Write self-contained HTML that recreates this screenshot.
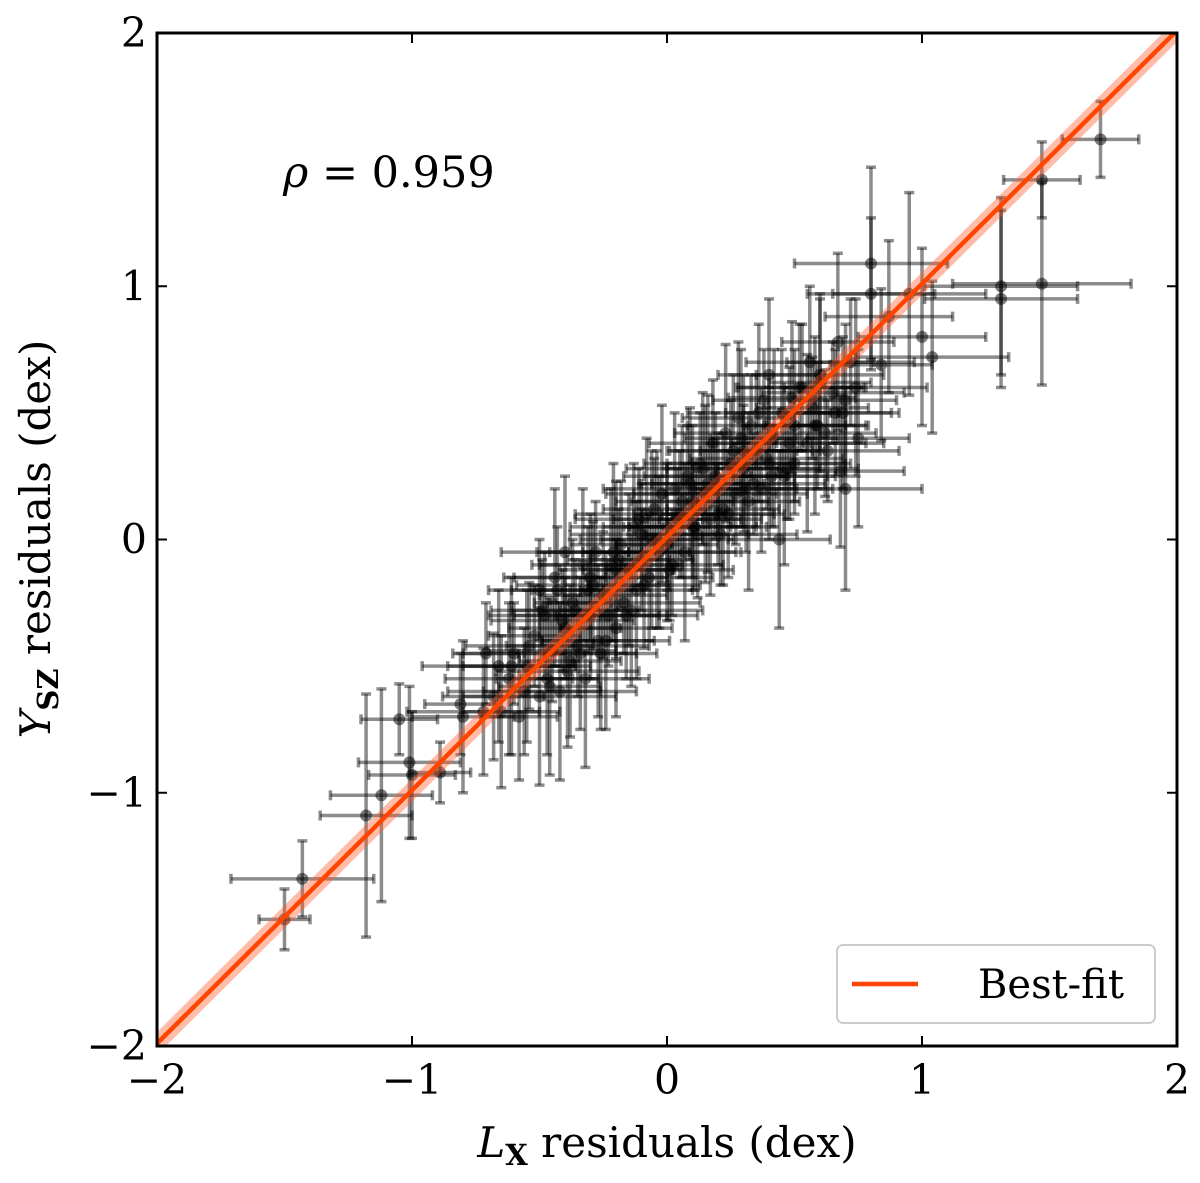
<!DOCTYPE html>
<html><head><meta charset="utf-8"><style>
body{margin:0;background:#fff;}
svg text{font-family:"DejaVu Serif","Liberation Serif",serif;}
</style></head><body>
<svg id="chart" width="1200" height="1178" xmlns="http://www.w3.org/2000/svg">
<g id="marks"></g>
<g id="fit"></g>
<g id="axes"></g>
</svg>
<script>
const xTicks=[-2,-1,0,1,2];
const yTicks=[-2,-1,0,1,2];
const tickLabels=["\u22122","\u22121","0","1","2"];
const fitSlope=1.0;
const fitIntercept=0.01;
const fitBand=0.045;
const xs=[-1.5,-1.43,-1.18,-1.12,-1.05,-1.01,-1.0,-0.89,-0.81,-0.8,-0.71,-0.68,-0.65,1.7,1.47,1.47,1.31,1.31,0.8,0.8,0.95,0.87,0.84,1.0,1.04,0.75,0.68,0.7,0.44,0.4,
-0.6,-0.58,-0.55,-0.52,-0.5,-0.48,-0.47,-0.45,-0.43,-0.42,-0.4,-0.38,-0.37,-0.35,-0.33,-0.32,-0.3,-0.28,-0.27,-0.25,-0.23,-0.22,-0.2,-0.18,-0.17,-0.15,-0.13,-0.12,-0.1,-0.08,
-0.07,-0.05,-0.03,-0.02,0.0,0.02,0.03,0.05,0.07,0.08,0.1,0.12,0.13,0.15,0.17,0.18,0.2,0.22,0.23,0.25,0.27,0.28,0.3,0.32,0.33,0.35,0.37,0.38,0.4,0.42,
0.45,0.47,0.5,0.52,0.55,0.57,0.6,0.62,0.65,0.67,0.7,0.72,-0.62,-0.56,-0.44,-0.36,-0.26,-0.16,-0.06,0.04,0.14,0.24,0.34,0.46,0.56,0.66,-0.5,-0.4,-0.3,-0.2,-0.1,0.0,0.1,0.2,0.3,0.6,
-0.66,-0.54,-0.46,-0.41,-0.34,-0.29,-0.24,-0.19,-0.14,-0.09,-0.04,0.01,0.06,0.11,0.16,0.21,0.26,0.31,0.36,0.41,0.48,0.53,0.58,0.63,0.69,-0.72,-0.61,-0.49,-0.39,-0.31,
-0.21,-0.11,0.09,0.19,0.29,0.39,0.49,0.59,0.74,0.5];
const ys=[-1.5,-1.34,-1.09,-1.01,-0.71,-0.88,-0.93,-0.92,-0.65,-0.7,-0.45,-0.62,-0.68,1.58,1.42,1.01,1.0,0.95,1.09,0.97,0.97,0.88,0.69,0.8,0.72,0.4,0.27,0.2,0.0,0.65,
-0.45,-0.7,-0.5,-0.38,-0.62,-0.3,-0.55,-0.44,-0.2,-0.6,-0.35,-0.48,-0.25,-0.42,-0.1,-0.55,-0.3,-0.05,-0.4,-0.22,-0.3,-0.1,-0.35,-0.02,-0.25,-0.12,0.05,-0.2,-0.08,0.1,
-0.15,0.12,-0.05,0.18,0.05,-0.1,0.2,0.1,-0.05,0.25,0.15,0.02,0.3,0.18,0.08,0.38,0.22,0.12,0.42,0.3,0.18,0.48,0.28,0.15,0.45,0.35,0.2,0.55,0.3,0.4,
0.5,0.28,0.45,0.6,0.38,0.52,0.65,0.42,0.58,0.78,0.55,0.7,-0.55,-0.6,-0.15,-0.28,-0.45,-0.3,0.0,0.08,0.28,0.1,0.22,0.25,0.7,0.5,-0.2,-0.05,-0.15,-0.12,0.02,-0.02,0.05,0.1,0.35,0.62,
-0.5,-0.42,-0.58,-0.32,-0.45,-0.18,-0.4,-0.08,-0.28,-0.18,0.0,-0.12,0.15,0.05,0.22,0.02,0.35,0.2,0.5,0.25,0.38,0.6,0.45,0.35,0.5,-0.68,-0.5,-0.28,-0.52,-0.2,
-0.05,0.08,0.22,0.25,0.4,0.32,0.56,0.45,0.6,0.3];
const xerrs=[0.1,0.28,0.18,0.2,0.15,0.2,0.17,0.12,0.14,0.2,0.13,0.2,0.15,0.15,0.15,0.35,0.3,0.3,0.3,0.25,0.3,0.25,0.2,0.25,0.3,0.2,0.25,0.3,0.2,0.2,
0.2,0.15,0.25,0.18,0.3,0.22,0.2,0.25,0.18,0.3,0.22,0.2,0.15,0.28,0.2,0.25,0.3,0.18,0.22,0.25,0.2,0.28,0.22,0.2,0.3,0.18,0.25,0.22,0.2,0.28,
0.25,0.2,0.3,0.22,0.25,0.2,0.28,0.18,0.22,0.25,0.3,0.2,0.22,0.28,0.2,0.25,0.3,0.22,0.2,0.25,0.28,0.22,0.3,0.2,0.25,0.22,0.28,0.2,0.3,0.25,
0.22,0.28,0.2,0.25,0.3,0.22,0.25,0.2,0.28,0.22,0.2,0.25,0.25,0.3,0.2,0.25,0.22,0.28,0.2,0.25,0.3,0.22,0.28,0.2,0.25,0.22,0.2,0.25,0.3,0.22,0.28,0.2,0.25,0.22,0.3,0.2,
0.3,0.25,0.2,0.28,0.22,0.3,0.25,0.2,0.28,0.22,0.3,0.25,0.2,0.28,0.22,0.3,0.25,0.2,0.28,0.22,0.3,0.25,0.2,0.28,0.22,0.3,0.25,0.2,0.28,0.22,
0.3,0.25,0.2,0.28,0.22,0.3,0.25,0.2,0.28,0.22];
const yerrs=[0.12,0.15,0.48,0.42,0.14,0.3,0.25,0.12,0.2,0.3,0.2,0.25,0.3,0.15,0.15,0.4,0.35,0.35,0.38,0.3,0.4,0.3,0.3,0.35,0.3,0.35,0.3,0.4,0.35,0.3,
0.2,0.25,0.3,0.2,0.35,0.25,0.3,0.2,0.25,0.35,0.2,0.3,0.25,0.2,0.3,0.35,0.25,0.2,0.3,0.25,0.2,0.3,0.35,0.25,0.2,0.3,0.25,0.35,0.2,0.3,
0.25,0.2,0.3,0.35,0.25,0.2,0.3,0.25,0.35,0.2,0.3,0.25,0.2,0.35,0.3,0.25,0.2,0.3,0.35,0.25,0.2,0.3,0.25,0.35,0.2,0.3,0.25,0.2,0.3,0.35,
0.25,0.2,0.3,0.25,0.35,0.2,0.3,0.25,0.2,0.35,0.3,0.25,0.3,0.25,0.35,0.2,0.3,0.25,0.35,0.2,0.3,0.25,0.2,0.35,0.3,0.25,0.2,0.3,0.25,0.35,0.2,0.3,0.25,0.2,0.3,0.35,
0.3,0.25,0.35,0.2,0.3,0.25,0.35,0.2,0.3,0.25,0.35,0.2,0.3,0.25,0.35,0.2,0.3,0.25,0.35,0.2,0.3,0.25,0.35,0.2,0.3,0.25,0.35,0.2,0.3,0.25,
0.35,0.2,0.3,0.25,0.35,0.2,0.3,0.25,0.35,0.2];

const L=157,R=1177,T=33,B=1046;
const sx=v=>L+(v+2)/4*(R-L);
const sy=v=>B-(v+2)/4*(B-T);
const NS="http://www.w3.org/2000/svg";
function mk(tag,attrs,parent){const e=document.createElementNS(NS,tag);for(const k in attrs)e.setAttribute(k,attrs[k]);parent.appendChild(e);return e;}
const marks=document.getElementById('marks');
const clip=mk('clipPath',{id:'pc'},document.getElementById('chart'));
mk('rect',{x:L,y:T,width:R-L,height:B-T},clip);
marks.setAttribute('clip-path','url(#pc)');
for(let i=0;i<xs.length;i++){
  const g=mk('g',{stroke:'rgba(0,0,0,0.45)','stroke-width':3.5,fill:'none'},marks);
  
  
  const x=sx(xs[i]),y=sy(ys[i]);
  const x0=sx(xs[i]-xerrs[i]),x1=sx(xs[i]+xerrs[i]);
  const y0=sy(ys[i]-yerrs[i]),y1=sy(ys[i]+yerrs[i]);
  mk('line',{x1:x0,y1:y,x2:x1,y2:y},g);
  mk('line',{x1:x,y1:y0,x2:x,y2:y1},g);
  mk('line',{x1:x0,y1:y-5,x2:x0,y2:y+5},g);
  mk('line',{x1:x1,y1:y-5,x2:x1,y2:y+5},g);
  mk('line',{x1:x-5,y1:y0,x2:x+5,y2:y0},g);
  mk('line',{x1:x-5,y1:y1,x2:x+5,y2:y1},g);
  mk('circle',{cx:x,cy:y,r:6,fill:'rgba(0,0,0,0.5)',stroke:'none'},g);
}
const fit=document.getElementById('fit');
fit.setAttribute('clip-path','url(#pc)');
const fy=x=>fitSlope*x+fitIntercept;
const band=mk('polygon',{points:[[sx(-2.1),sy(fy(-2.1)+fitBand)],[sx(2.1),sy(fy(2.1)+fitBand)],[sx(2.1),sy(fy(2.1)-fitBand)],[sx(-2.1),sy(fy(-2.1)-fitBand)]].map(p=>p.join(',')).join(' '),fill:'rgba(255,90,40,0.4)'},fit);


const ln=mk('line',{x1:sx(-2.1),y1:sy(fy(-2.1)),x2:sx(2.1),y2:sy(fy(2.1)),stroke:'#ff4500','stroke-width':4.5},fit);



const ax=document.getElementById('axes');
mk('rect',{x:L,y:T,width:R-L,height:B-T,fill:'none',stroke:'#000','stroke-width':3},ax);
xTicks.forEach((v,i)=>{
  const x=sx(v);
  mk('line',{x1:x,y1:B,x2:x,y2:B-10,stroke:'#000','stroke-width':2},ax);
  mk('line',{x1:x,y1:T,x2:x,y2:T+10,stroke:'#000','stroke-width':2},ax);
  const t=mk('text',{x:x,y:B+48,'text-anchor':'middle','font-size':41},ax);
  t.textContent=tickLabels[i];
  
  
});
yTicks.forEach((v,i)=>{
  const y=sy(v);
  mk('line',{x1:L,y1:y,x2:L+10,y2:y,stroke:'#000','stroke-width':2},ax);
  mk('line',{x1:R,y1:y,x2:R-10,y2:y,stroke:'#000','stroke-width':2},ax);
  const t=mk('text',{x:L-10,y:y+14,'text-anchor':'end','font-size':41},ax);
  t.textContent=tickLabels[i];
  
  
});
</script>
<svg style="position:absolute;left:0;top:0" width="1200" height="1178" xmlns="http://www.w3.org/2000/svg">
<text x="283" y="187" font-size="43" font-family="DejaVu Serif,serif"><tspan font-style="italic">ρ</tspan> = 0.959</text>
<g>
<rect x="837" y="945" width="318" height="78" rx="6" fill="rgba(255,255,255,0.85)" stroke="#ccc" stroke-width="2"/>
<line x1="852" y1="984" x2="918" y2="984" stroke="#ff4500" stroke-width="4.5"/>
<text x="978" y="998" font-size="40" font-family="DejaVu Serif,serif">Best-fit</text>
</g>
<text x="667" y="1157" text-anchor="middle" font-size="42" font-family="DejaVu Serif,serif"><tspan font-style="italic">L</tspan><tspan font-size="29" font-weight="bold" dy="8">X</tspan><tspan dy="-8"> residuals (dex)</tspan></text>
<text transform="translate(50,539) rotate(-90)" text-anchor="middle" font-size="42" font-family="DejaVu Serif,serif"><tspan font-style="italic">Y</tspan><tspan font-size="29" font-weight="bold" dy="8">SZ</tspan><tspan dy="-8"> residuals (dex)</tspan></text>
</svg>
</body></html>
